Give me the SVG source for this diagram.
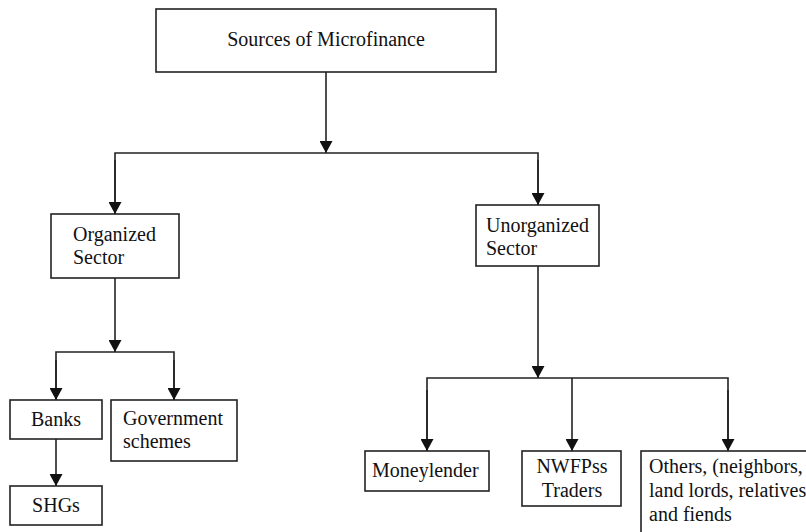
<svg xmlns="http://www.w3.org/2000/svg" width="806" height="532" viewBox="0 0 806 532">
<defs>
<marker id="arr" markerUnits="userSpaceOnUse" markerWidth="13" markerHeight="13" refX="12" refY="6.5" orient="auto">
<path d="M0,0 L12,6.5 L0,13 z" fill="#111"/>
</marker>
<style>
.box{fill:#fff;stroke:#222;stroke-width:1.6}
.t{font-family:"Liberation Serif","Times New Roman",serif;font-size:20px;fill:#111}
.c{text-anchor:middle}
.ln{fill:none;stroke:#222;stroke-width:1.6}
</style>
</defs>
<rect width="806" height="532" fill="#fff"/>
<g id="connectors">
<line class="ln" x1="326" y1="72" x2="326" y2="153" marker-end="url(#arr)"/>
<polyline class="ln" points="115,214 115,153 538,153 538,205" />
<line class="ln" x1="115" y1="160" x2="115" y2="214" marker-end="url(#arr)"/>
<line class="ln" x1="538" y1="160" x2="538" y2="205" marker-end="url(#arr)"/>
<line class="ln" x1="115" y1="278" x2="115" y2="352" marker-end="url(#arr)"/>
<polyline class="ln" points="56,400 56,352 174,352 174,400"/>
<line class="ln" x1="56" y1="360" x2="56" y2="400" marker-end="url(#arr)"/>
<line class="ln" x1="174" y1="360" x2="174" y2="400" marker-end="url(#arr)"/>
<line class="ln" x1="56" y1="439" x2="56" y2="486" marker-end="url(#arr)"/>
<line class="ln" x1="538" y1="266" x2="538" y2="378" marker-end="url(#arr)"/>
<polyline class="ln" points="427,451 427,378 728,378 728,451"/>
<line class="ln" x1="427" y1="390" x2="427" y2="451" marker-end="url(#arr)"/>
<line class="ln" x1="572" y1="378" x2="572" y2="451" marker-end="url(#arr)"/>
<line class="ln" x1="728" y1="390" x2="728" y2="451" marker-end="url(#arr)"/>
</g>
<g id="sources">
<rect class="box" x="156" y="9" width="340" height="63"/>
<text class="t c" x="326" y="46">Sources of Microfinance</text>
</g>
<g id="organized">
<rect class="box" x="51" y="214" width="128" height="64"/>
<text class="t" x="73" y="241">Organized</text>
<text class="t" x="73" y="264">Sector</text>
</g>
<g id="unorganized">
<rect class="box" x="476" y="205" width="123" height="61"/>
<text class="t" x="486" y="232">Unorganized</text>
<text class="t" x="486" y="255">Sector</text>
</g>
<g id="banks">
<rect class="box" x="10" y="400" width="92" height="39"/>
<text class="t c" x="56" y="426">Banks</text>
</g>
<g id="government">
<rect class="box" x="111" y="400" width="126" height="61"/>
<text class="t" x="123" y="425">Government</text>
<text class="t" x="123" y="448">schemes</text>
</g>
<g id="shgs">
<rect class="box" x="10" y="486" width="92" height="39"/>
<text class="t c" x="56" y="512">SHGs</text>
</g>
<g id="moneylender">
<rect class="box" x="365" y="451" width="124" height="40"/>
<text class="t" x="372" y="477">Moneylender</text>
</g>
<g id="nwfp">
<rect class="box" x="522" y="451" width="99" height="55"/>
<text class="t c" x="572" y="473">NWFPss</text>
<text class="t c" x="572" y="497">Traders</text>
</g>
<g id="others">
<rect class="box" x="641" y="451" width="200" height="100"/>
<text class="t" x="649" y="473">Others, (neighbors,</text>
<text class="t" x="649" y="497">land lords, relatives</text>
<text class="t" x="649" y="521">and fiends</text>
</g>
</svg>
